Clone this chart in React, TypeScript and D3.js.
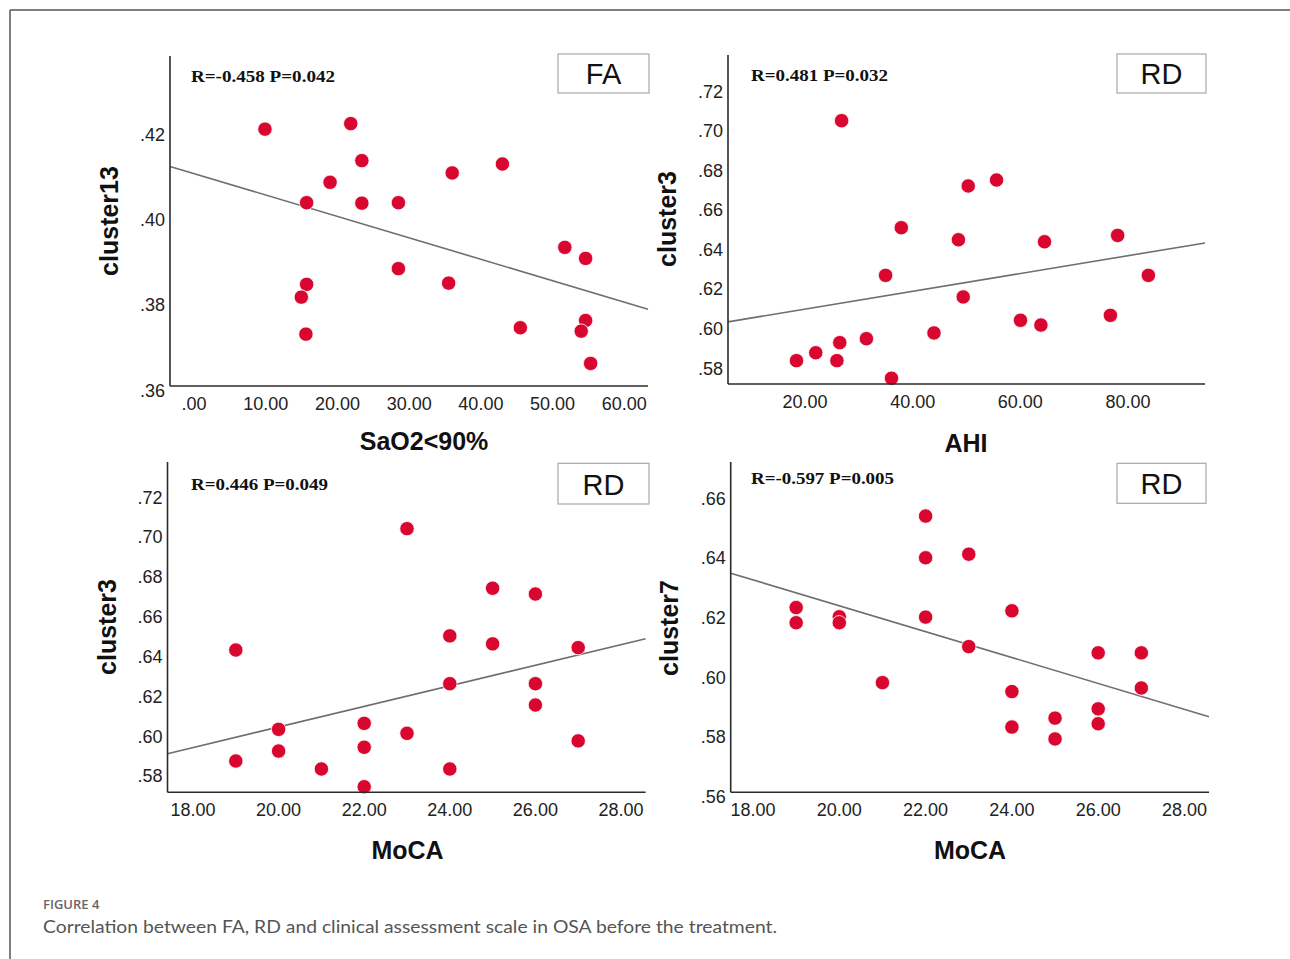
import React from "react";
import * as d3 from "d3";

// ---- Data ----
const saoX = [9.89, 21.85, 23.4, 18.97, 15.7, 23.4, 28.5, 36.0, 43.0, 15.7, 14.96, 15.6, 28.5, 35.5, 45.5, 51.7, 54.6, 54.6, 53.99, 55.3];
const faCluster13 = [0.4204, 0.4217, 0.413, 0.4079, 0.4031, 0.403, 0.4031, 0.4101, 0.4122, 0.3839, 0.3809, 0.3722, 0.3876, 0.3842, 0.3737, 0.3926, 0.39, 0.3754, 0.3729, 0.3653];

const ahiX = [26.8, 55.58, 50.32, 37.89, 48.5, 64.49, 78.07, 34.97, 83.78, 49.39, 60.03, 63.82, 76.73, 43.96, 31.41, 26.46, 22.0, 18.42, 25.93, 36.07];
const rdCluster3Ahi = [0.703, 0.673, 0.67, 0.6489, 0.6428, 0.6418, 0.645, 0.6248, 0.6248, 0.6139, 0.6021, 0.5997, 0.6046, 0.5957, 0.5928, 0.5908, 0.5857, 0.5817, 0.5817, 0.5728];

const mocaX3 = [19, 19, 20, 20, 21, 22, 22, 22, 23, 23, 24, 24, 24, 25, 25, 26, 26, 26, 27, 27];
const rdCluster3Moca = [0.6412, 0.5855, 0.6014, 0.5905, 0.5815, 0.6044, 0.5924, 0.5726, 0.7021, 0.5994, 0.6483, 0.6243, 0.5815, 0.6722, 0.6443, 0.6693, 0.6243, 0.6136, 0.6424, 0.5956];

const mocaX7 = [19, 19, 20, 20, 21, 22, 22, 22, 23, 23, 24, 24, 24, 25, 25, 26, 26, 26, 27, 27];
const rdCluster7 = [0.622, 0.6169, 0.6189, 0.6169, 0.5968, 0.6527, 0.6387, 0.6188, 0.6399, 0.6089, 0.6209, 0.5938, 0.5819, 0.5849, 0.5779, 0.6068, 0.588, 0.583, 0.6068, 0.595];

const xTicks1 = [0, 10, 20, 30, 40, 50, 60];
const yTicks1 = [0.36, 0.38, 0.4, 0.42];
const xTicks2 = [20, 40, 60, 80];
const yTicks2 = [0.58, 0.6, 0.62, 0.64, 0.66, 0.68, 0.7, 0.72];
const xTicks3 = [18, 20, 22, 24, 26, 28];
const yTicks3 = [0.58, 0.6, 0.62, 0.64, 0.66, 0.68, 0.7, 0.72];
const xTicks4 = [18, 20, 22, 24, 26, 28];
const yTicks4 = [0.56, 0.58, 0.6, 0.62, 0.64, 0.66];

const panelTags = ["FA", "RD", "RD", "RD"];
const statLabels = ["R=-0.458 P=0.042", "R=0.481 P=0.032", "R=0.446 P=0.049", "R=-0.597 P=0.005"];
const xTitles = ["SaO2<90%", "AHI", "MoCA", "MoCA"];
const yTitles = ["cluster13", "cluster3", "cluster3", "cluster7"];

// ---- Layout ----
type Panel = {
  xs: number[]; ys: number[];
  xDomain: [number, number]; yDomain: [number, number];
  xTicks: number[]; yTicks: number[];
  x0: number; x1: number; y0: number; y1: number;
  tag: string; stat: string; xTitle: string; yTitle: string;
  statX: number; statY: number; statW: number;
  boxX: number; boxY: number; boxW: number; boxH: number;
  yTitleX: number; yTitleY: number; xTitleX: number; xTitleY: number;
};

const panels: Panel[] = [
  {
    xs: saoX, ys: faCluster13, xDomain: [-3.35, 63.3], yDomain: [0.36, 0.4376],
    xTicks: xTicks1, yTicks: yTicks1, x0: 170, x1: 648, y0: 56, y1: 386,
    tag: panelTags[0], stat: statLabels[0], xTitle: xTitles[0], yTitle: yTitles[0],
    statX: 191, statY: 81.7, statW: 144, boxX: 558, boxY: 54, boxW: 91, boxH: 39,
    yTitleX: 118, yTitleY: 221, xTitleX: 424, xTitleY: 450,
  },
  {
    xs: ahiX, ys: rdCluster3Ahi, xDomain: [5.7, 94.3], yDomain: [0.5699, 0.7362],
    xTicks: xTicks2, yTicks: yTicks2, x0: 728, x1: 1205, y0: 55, y1: 384,
    tag: panelTags[1], stat: statLabels[1], xTitle: xTitles[1], yTitle: yTitles[1],
    statX: 751, statY: 80.7, statW: 137, boxX: 1117, boxY: 54, boxW: 89, boxH: 39,
    yTitleX: 676, yTitleY: 219, xTitleX: 966, xTitleY: 451.7,
  },
  {
    xs: mocaX3, ys: rdCluster3Moca, xDomain: [17.404, 28.575], yDomain: [0.5698, 0.73556],
    xTicks: xTicks3, yTicks: yTicks3, x0: 167.5, x1: 645.6, y0: 462, y1: 792.3,
    tag: panelTags[2], stat: statLabels[2], xTitle: xTitles[2], yTitle: yTitles[2],
    statX: 191, statY: 490, statW: 137, boxX: 558, boxY: 463.3, boxW: 91, boxH: 40.7,
    yTitleX: 116, yTitleY: 627, xTitleX: 407.5, xTitleY: 859.3,
  },
  {
    xs: mocaX7, ys: rdCluster7, xDomain: [17.483, 28.568], yDomain: [0.56, 0.67084],
    xTicks: xTicks4, yTicks: yTicks4, x0: 730.7, x1: 1209, y0: 462, y1: 792.3,
    tag: panelTags[3], stat: statLabels[3], xTitle: xTitles[3], yTitle: yTitles[3],
    statX: 751, statY: 484.3, statW: 143, boxX: 1117, boxY: 463.3, boxW: 89, boxH: 40,
    yTitleX: 678, yTitleY: 628, xTitleX: 970, xTitleY: 859,
  },
];

const SANS = "'Liberation Sans', Arial, sans-serif";
const SERIF = "'Liberation Serif', 'Times New Roman', serif";
const MARK = "#d9072f";

const fmt = (v: number) => d3.format(".2f")(v).replace(/^0\./, ".");

function fit(xs: number[], ys: number[]) {
  const mx = d3.mean(xs) as number;
  const my = d3.mean(ys) as number;
  let sxy = 0, sxx = 0;
  xs.forEach((x, i) => { sxy += (x - mx) * (ys[i] - my); sxx += (x - mx) * (x - mx); });
  const b = sxy / sxx;
  return { a: my - b * mx, b };
}

function ScatterPanel({ p }: { p: Panel }) {
  const x = d3.scaleLinear().domain(p.xDomain).range([p.x0, p.x1]);
  const y = d3.scaleLinear().domain(p.yDomain).range([p.y1, p.y0]);
  const { a, b } = fit(p.xs, p.ys);
  const line = d3.line<number>().x((v) => x(v)).y((v) => y(a + b * v));
  return (
    <g>
      {/* regression line */}
      <path d={line(p.xDomain) || ""} stroke="#6e6e6e" strokeWidth={1.6} fill="none" />
      {/* points */}
      {p.xs.map((xv, i) => (
        <circle key={i} cx={x(xv)} cy={y(p.ys[i])} r={7.2} fill={MARK} stroke="#ffffff" strokeWidth={0.8} />
      ))}
      {/* axes */}
      <line x1={p.x0} x2={p.x0} y1={p.y0} y2={p.y1} stroke="#2b2b2b" strokeWidth={1.6} />
      <line x1={p.x0} x2={p.x1} y1={p.y1} y2={p.y1} stroke="#2b2b2b" strokeWidth={1.6} />
      {p.yTicks.map((t) => (
        <text key={"y" + t} x={p.x0 - 5} y={y(t) + 10.5} textAnchor="end" fontFamily={SANS} fontSize={18} fill="#222">
          {fmt(t)}
        </text>
      ))}
      {p.xTicks.map((t) => (
        <text key={"x" + t} x={x(t)} y={p.y1 + 24} textAnchor="middle" fontFamily={SANS} fontSize={18} fill="#222">
          {fmt(t)}
        </text>
      ))}
      {/* titles */}
      <text x={p.xTitleX} y={p.xTitleY} textAnchor="middle" fontFamily={SANS} fontWeight="bold" fontSize={25} fill="#111">
        {p.xTitle}
      </text>
      <text transform={`translate(${p.yTitleX},${p.yTitleY}) rotate(-90)`} textAnchor="middle" fontFamily={SANS} fontWeight="bold" fontSize={25} fill="#111">
        {p.yTitle}
      </text>
      {/* stat annotation */}
      <text x={p.statX} y={p.statY} fontFamily={SERIF} fontWeight="bold" fontSize={16.5} fill="#111" textLength={p.statW} lengthAdjust="spacingAndGlyphs">
        {p.stat}
      </text>
      {/* tag box */}
      <rect x={p.boxX} y={p.boxY} width={p.boxW} height={p.boxH} fill="#fff" stroke="#a8a8a8" strokeWidth={1.2} />
      <text x={p.boxX + p.boxW / 2} y={p.boxY + p.boxH - 9} textAnchor="middle" fontFamily={SANS} fontSize={29} fill="#111">
        {p.tag}
      </text>
    </g>
  );
}

export default function App() {
  return (
    <svg width={1290} height={959} viewBox="0 0 1290 959" style={{ position: "absolute", left: 0, top: 0, background: "#fff" }}>
      <rect x={0} y={0} width={1290} height={959} fill="#fff" />
      <line x1={10} x2={1290} y1={10} y2={10} stroke="#555" strokeWidth={1.5} />
      <line x1={10} x2={10} y1={10} y2={959} stroke="#555" strokeWidth={1.5} />
      {panels.map((p, i) => (
        <ScatterPanel key={i} p={p} />
      ))}
      <text x={43} y={909} fontFamily="'Open Sans', Lato, sans-serif" fontWeight={600} fontSize={13} fill="#666">
        FIGURE 4
      </text>
      <text x={43} y={933} fontFamily="Lato, 'Open Sans', sans-serif" fontSize={17} fill="#555" textLength={734} lengthAdjust="spacingAndGlyphs">
        Correlation between FA, RD and clinical assessment scale in OSA before the treatment.
      </text>
    </svg>
  );
}
